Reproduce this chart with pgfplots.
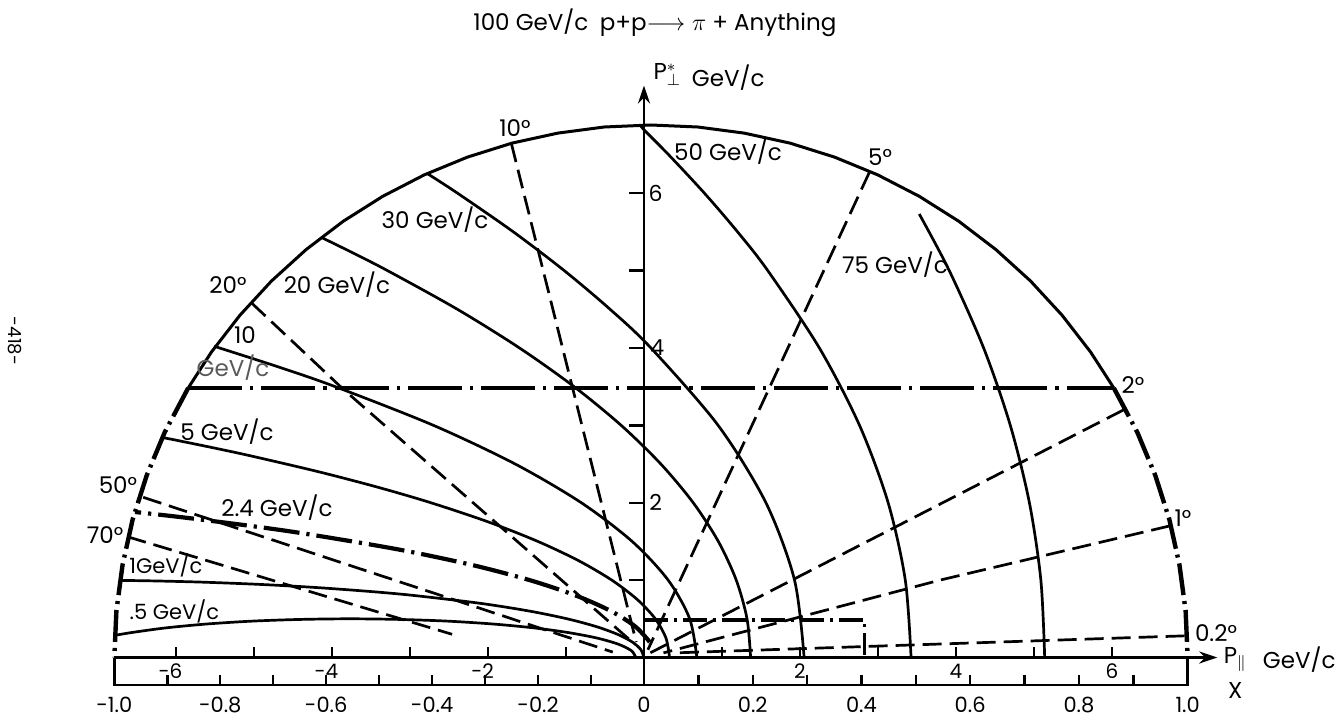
\documentclass[border=0pt]{standalone}
\usepackage{fontspec}
\setmainfont{Poppins}
\usepackage{pgfplots}
\pgfplotsset{compat=1.18}
\usetikzlibrary{arrows.meta}
\pgfplotsset{
  solidc/.style={black, line width=1.35pt, no markers},
  dashc/.style={black, line width=1.35pt, dash pattern=on 9.5pt off 4pt, no markers},
  ddc/.style={black, line width=2.2pt, dash pattern=on 16pt off 3pt on 1.5pt off 3pt, no markers},
  ddh/.style={black, line width=1.9pt, dash pattern=on 27pt off 4pt on 1.6pt off 4pt, no markers},
  dd24/.style={black, line width=2.1pt, dash pattern=on 18pt off 3.5pt on 1.6pt off 3.5pt, no markers},
}
\newcommand{\lab}{\fontsize{11.5}{13}\selectfont}
\newcommand{\labs}{\fontsize{10.5}{12}\selectfont}
\newcommand{\tk}{\fontsize{11}{12}\selectfont}
\newcommand{\tkp}{\fontsize{10}{11}\selectfont}
\newcommand{\xl}{\fontsize{10.5}{12}\selectfont}
\begin{document}
\begin{tikzpicture}
\begin{axis}[x=39pt, y=38.7pt, xmin=-8.256, xmax=8.859, ymin=-0.769, ymax=8.495,
  hide axis, clip=false]

% kinematic limit: solid upper arc
\addplot[solidc, line width=1.5pt] coordinates {
(6.024,3.481) (5.726,3.946) (5.360,4.422) (4.955,4.865) (4.512,5.270) (4.036,5.636)
(3.530,5.958) (2.998,6.235) (2.443,6.465) (1.871,6.646) (1.285,6.775) (0.690,6.854)
(0.090,6.880) (-0.510,6.854) (-1.105,6.775) (-1.691,6.646) (-2.263,6.465) (-2.818,6.235)
(-3.350,5.958) (-3.856,5.636) (-4.332,5.270) (-4.775,4.865) (-5.180,4.422) (-5.546,3.946)
(-5.844,3.481)};
% dash-dot lower arcs
\addplot[ddc] coordinates {
(6.024,3.481) (6.325,2.908) (6.555,2.353) (6.736,1.781) (6.865,1.195) (6.944,0.600) (6.970,0)};
\addplot[ddc] coordinates {
(-5.844,3.481) (-6.145,2.908) (-6.375,2.353) (-6.556,1.781) (-6.685,1.195) (-6.764,0.600) (-6.790,0)};
% horizontal dash-dot
\addplot[ddh] coordinates {(-5.844,3.481) (6.024,3.481)};
% small dash-dot box
\addplot[ddh, line width=1.7pt, dash pattern=on 12pt off 3pt on 1.5pt off 3pt] coordinates {(0.0,0.484) (2.83,0.484) (2.83,0.03)};

% constant lab momentum curves
\addplot[solidc, smooth] coordinates {
(-0.105,0) (-0.160,0.087) (-0.326,0.171) (-0.596,0.250) (-0.963,0.321) (-1.414,0.383)
(-1.938,0.433) (-2.517,0.470) (-3.135,0.492) (-3.771,0.500) (-4.408,0.492) (-5.025,0.470)
(-5.605,0.433) (-6.128,0.383) (-6.580,0.321) (-6.786,0.285)};
\addplot[solidc, smooth] coordinates {
(-0.002,0) (-0.039,0.1) (-0.150,0.2) (-0.340,0.3) (-0.614,0.4) (-0.984,0.5) (-1.469,0.6)
(-2.098,0.7) (-2.935,0.8) (-3.472,0.85) (-4.139,0.9) (-4.640,0.93) (-5.045,0.95)
(-5.553,0.97) (-5.876,0.98) (-6.301,0.99) (-6.72,0.9965)};
\addplot[dd24, smooth] coordinates {
(0.074,0.2) (-0.111,0.4) (-0.424,0.6) (-0.872,0.8) (-1.466,1.0) (-2.223,1.2) (-3.170,1.4)
(-4.347,1.6) (-5.042,1.7) (-5.824,1.8) (-6.253,1.85) (-6.525,1.88)};
\addplot[solidc, smooth] coordinates {
(0.328,0) (0.282,0.25) (0.145,0.5) (-0.087,0.75) (-0.413,1.0) (-0.836,1.25) (-1.361,1.5)
(-1.991,1.75) (-2.733,2.0) (-3.412,2.2) (-4.172,2.4) (-5.019,2.6) (-5.477,2.7)
(-5.960,2.8) (-6.186,2.845)};
\addplot[solidc, smooth] coordinates {
(0.678,0) (0.586,0.5) (0.310,1.0) (-0.152,1.5) (-0.804,2.0) (-1.651,2.5) (-2.700,3.0)
(-3.960,3.5) (-4.674,3.75) (-5.444,4.0) (-5.492,4.015)};
\addplot[solidc, smooth] coordinates {
(1.367,0) (1.321,0.5) (1.183,1) (0.953,1.5) (0.631,2) (0.216,2.5) (-0.293,3) (-0.897,3.5)
(-1.597,4) (-2.394,4.5) (-3.291,5) (-3.777,5.25) (-4.135,5.427)};
\addplot[solidc, smooth] coordinates {
(2.053,0) (1.930,1) (1.563,2) (0.950,3) (0.088,4) (-0.436,4.5) (-1.024,5) (-1.676,5.5)
(-2.392,6) (-2.782,6.255)};
\addplot[solidc, smooth] coordinates {
(3.424,0) (3.350,1) (3.130,2) (2.763,3) (2.248,4) (1.586,5) (1.199,5.5) (0.774,6)
(0.312,6.5) (0.017,6.8) (-0.05,6.878)};
\addplot[solidc, smooth] coordinates {
(5.137,0) (5.088,1) (4.941,2) (4.696,3) (4.354,4) (3.913,5) (3.529,5.73)};

% constant lab angle lines
\addplot[dashc] coordinates {(-1.70,6.64) (-0.10,0.20)};
\addplot[dashc] coordinates {(-5.03,4.58) (-3.87,3.48) (-0.15,0.20)};
\addplot[dashc] coordinates {(2.89,6.27) (0.05,0.10)};
\addplot[dashc] coordinates {(6.15,3.20) (0.08,0.06)};
\addplot[dashc] coordinates {(6.74,1.70) (3.795,1.00) (0.25,0.06)};
\addplot[dashc] coordinates {(6.93,0.28) (0.40,0.06)};
\addplot[dashc] coordinates {(-6.42,2.07) (-0.40,0.07)};
\addplot[dashc] coordinates {(-6.62,1.56) (-2.46,0.30)};

% axes
\draw[line width=1.3pt, -{Stealth[length=9pt,width=6pt]}] (0,0) -- (0,7.39);
\draw[line width=1.3pt, -{Stealth[length=9pt,width=6pt]}] (-6.79,0) -- (7.35,0);
\draw[line width=1.3pt] (-6.79,0) -- (-6.79,-0.355) -- (6.97,-0.355) -- (6.97,0);
\draw[line width=1.3pt] (0,0) -- (0,-0.355);
% vertical ticks
\draw[line width=1.2pt] (0,1)--(-0.19,1) (0,2)--(-0.19,2) (0,3)--(-0.19,3)
  (0,4)--(-0.19,4) (0,5)--(-0.19,5) (0,6)--(-0.19,6);
% P_par ticks
\draw[line width=1.2pt] (-6,0)--(-6,0.14) (-5,0)--(-5,0.14) (-4,0)--(-4,0.14)
  (-3,0)--(-3,0.14) (-2,0)--(-2,0.14) (-1,0)--(-1,0.14) (1,0)--(1,0.14) (2,0)--(2,0.14)
  (3,0)--(3,0.14) (4,0)--(4,0.14) (5,0)--(5,0.14) (6,0)--(6,0.14);
% X ticks
\draw[line width=1.2pt]
  (-6.111,-0.355)--(-6.111,-0.23) (-5.432,-0.355)--(-5.432,-0.23) (-4.753,-0.355)--(-4.753,-0.23)
  (-4.074,-0.355)--(-4.074,-0.23) (-3.395,-0.355)--(-3.395,-0.23) (-2.716,-0.355)--(-2.716,-0.23)
  (-2.037,-0.355)--(-2.037,-0.23) (-1.358,-0.355)--(-1.358,-0.23) (-0.679,-0.355)--(-0.679,-0.23)
  (0.697,-0.355)--(0.697,-0.23) (1.394,-0.355)--(1.394,-0.23) (2.091,-0.355)--(2.091,-0.23)
  (2.788,-0.355)--(2.788,-0.23) (3.485,-0.355)--(3.485,-0.23) (4.182,-0.355)--(4.182,-0.23)
  (4.879,-0.355)--(4.879,-0.23) (5.576,-0.355)--(5.576,-0.23) (6.273,-0.355)--(6.273,-0.23);

% tick labels
\node[font=\tk] at (0.15,6.0) {6};
\node[font=\tk] at (0.17,4.0) {4};
\node[font=\tk] at (0.15,2.0) {2};
\node[font=\tkp] at (-6.07,-0.175) {-6};
\node[font=\tkp] at (-4.07,-0.175) {-4};
\node[font=\tkp] at (-2.07,-0.175) {-2};
\node[font=\tkp] at (2,-0.175) {2};
\node[font=\tkp] at (4,-0.175) {4};
\node[font=\tkp] at (6,-0.175) {6};
\node[font=\xl] at (-6.79,-0.61) {-1.0};
\node[font=\xl] at (-5.432,-0.61) {-0.8};
\node[font=\xl] at (-4.074,-0.61) {-0.6};
\node[font=\xl] at (-2.716,-0.61) {-0.4};
\node[font=\xl] at (-1.358,-0.61) {-0.2};
\node[font=\xl] at (0,-0.61) {0};
\node[font=\xl] at (1.394,-0.61) {0.2};
\node[font=\xl] at (2.788,-0.61) {0.4};
\node[font=\xl] at (4.182,-0.61) {0.6};
\node[font=\xl] at (5.576,-0.61) {0.8};
\node[font=\xl] at (6.97,-0.61) {1.0};

% axis titles
\node[font=\lab] at (0.30,7.53) {P$^{\ast}_{\perp}$};
\node[font=\lab] at (1.08,7.49) {GeV/c};
\node[font=\lab] at (7.58,-0.03) {P$_{\parallel}$};
\node[font=\lab] at (8.40,-0.03) {GeV/c};
\node[font=\lab] at (7.58,-0.42) {X};
\node[font=\lab] at (0.14,8.20) {100 GeV/c\enspace p+p$\longrightarrow\pi$ + Anything};
\node[font=\fontsize{9}{10}\selectfont, rotate=-90] at (-8.064,4.089) {-418-};

% curve labels
\node[font=\lab] at (1.077,6.531) {50 GeV/c};
\node[font=\lab] at (-2.679,5.652) {30 GeV/c};
\node[font=\lab] at (-3.936,4.813) {20 GeV/c};
\node[font=\lab] at (3.218,5.071) {75 GeV/c};
\node[font=\lab] at (-5.115,4.167) {10};
\node[font=\lab, text=black!65] at (-5.269,3.740) {GeV/c};
\node[font=\lab] at (-5.346,2.913) {5 GeV/c};
\node[font=\lab] at (-4.705,1.931) {2.4 GeV/c};
\node[font=\labs] at (-6.13,1.195) {1GeV/c};
\node[font=\labs] at (-6.02,0.601) {.5 GeV/c};
% angle labels
\node[font=\lab] at (-1.654,6.841) {10°};
\node[font=\lab] at (3.026,6.467) {5°};
\node[font=\lab] at (-5.333,4.813) {20°};
\node[font=\lab] at (-6.744,2.229) {50°};
\node[font=\lab] at (-6.910,1.583) {70°};
\node[font=\lab] at (6.269,3.521) {2°};
\node[font=\lab] at (6.910,1.802) {1°};
\node[font=\lab] at (7.333,0.317) {0.2°};

\coordinate (BL) at (axis cs:-8.256,-0.769);
\coordinate (TR) at (axis cs:8.859,8.495);
\end{axis}
\pgfresetboundingbox
\useasboundingbox (BL) rectangle (TR);
\end{tikzpicture}
\end{document}
